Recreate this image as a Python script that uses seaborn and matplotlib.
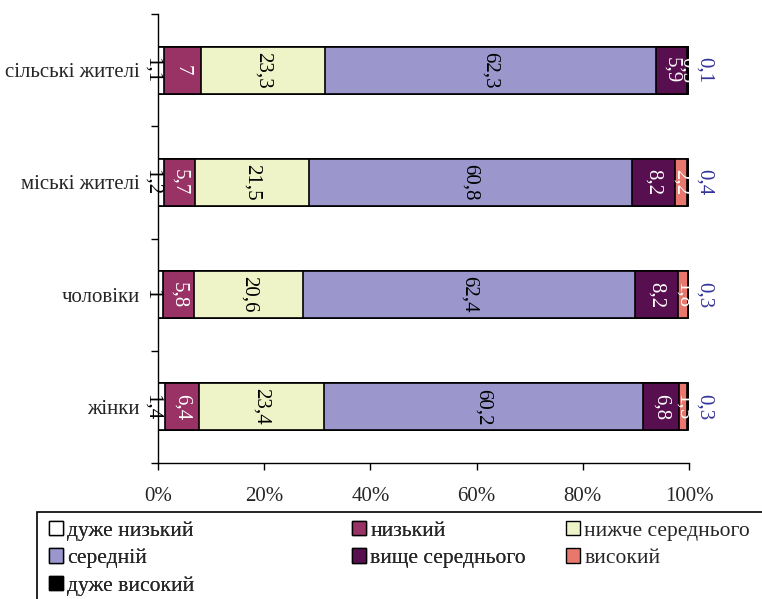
import matplotlib
matplotlib.use("Agg")
import matplotlib.pyplot as plt
import seaborn as sns
import numpy as np
import pandas as pd
from matplotlib.patches import Patch, Rectangle

sns.set_style("white")
plt.rcParams['font.family'] = ['Liberation Serif', 'DejaVu Serif']

categories = ["сільські жителі", "міські жителі", "чоловіки", "жінки"]
series_names = ["дуже низький", "низький", "нижче середнього", "середній",
                "вище середнього", "високий", "дуже високий"]
very_low = [1.1, 1.2, 1.0, 1.4]
low = [7.0, 5.7, 5.8, 6.4]
below_avg = [23.3, 21.5, 20.6, 23.4]
average = [62.3, 60.8, 62.4, 60.2]
above_avg = [5.9, 8.2, 8.2, 6.8]
high = [0.3, 2.2, 1.8, 1.5]
very_high = [0.1, 0.4, 0.3, 0.3]
xtick_labels = ["0%", "20%", "40%", "60%", "80%", "100%"]

series = [very_low, low, below_avg, average, above_avg, high, very_high]
colors = ["#FFFFFF", "#993366", "#EEF3C8", "#9B96CC", "#570F4F", "#E8786E", "#000000"]
text_colors = ["black", "white", "black", "black", "white", "white", "#333399"]

fig = plt.figure(figsize=(7.62, 5.99), dpi=100)
ax = fig.add_axes([158/762, 1-463/599, (689-158)/762, (463-14)/599])

vals = np.array(series)
cum = np.cumsum(vals, axis=0)
for i in range(len(series)-1, -1, -1):
    df = pd.DataFrame({"cat": categories, "v": cum[i]})
    sns.barplot(data=df, x="v", y="cat", orient="h", color=colors[i],
                saturation=1, width=0.42, edgecolor="black", linewidth=1.2, ax=ax)

for i in range(len(series)):
    for j, cat in enumerate(categories):
        v = vals[i][j]
        start = cum[i][j] - v
        xc = start + v / 2
        if i == 0:
            xc = start - 1.2
        elif i == len(series) - 1:
            xc = cum[i][j] + 2.8
        lab = f"{v:g}".replace(".", ",")
        ax.text(xc, j, lab, rotation=270, ha="center", va="center",
                fontsize=15, color=text_colors[i], zorder=5)

ax.set_xlim(0, 100)
ax.set_ylim(3.5, -0.5)
ax.set_xticks([0, 20, 40, 60, 80, 100])
ax.set_xticklabels(xtick_labels, fontsize=15)
ax.set_yticks(range(len(categories)))
ax.set_yticklabels(categories, fontsize=15)
ax.set_yticks([-0.5, 0.5, 1.5, 2.5, 3.5], minor=True)
ax.tick_params(axis="y", which="major", length=0, pad=13)
ax.tick_params(axis="y", which="minor", length=5, width=1, color="black", direction="out", left=True)
ax.tick_params(axis="x", length=5, width=1, color="black", direction="out", bottom=True, pad=12)
ax.set_xlabel("")
ax.set_ylabel("")
for s in ["top", "right"]:
    ax.spines[s].set_visible(False)
for s in ["left", "bottom"]:
    ax.spines[s].set_color("black")
    ax.spines[s].set_linewidth(1)

# legend: 3 columns, filled row by row
ncol = 3
col_x = [49, 352, 566]
legend_top = 521
handles = [Patch(facecolor=c, edgecolor="black", linewidth=1) for c in colors]
for c in range(ncol):
    idx = list(range(c, len(handles), ncol))
    leg = fig.legend([handles[k] for k in idx], [series_names[k] for k in idx],
                     loc="upper left", bbox_to_anchor=(col_x[c]/762, 1-legend_top/599),
                     fontsize=15.5, frameon=False,
                     handlelength=0.65, handleheight=0.65, handletextpad=0.2,
                     labelspacing=0.36, borderpad=0, borderaxespad=0)
    if c < ncol - 1:
        fig.add_artist(leg)
frame = Rectangle((37/762, -0.1), 1.0, 1-512/599 + 0.1, transform=fig.transFigure,
                  fill=False, edgecolor="black", linewidth=1.2)
fig.add_artist(frame)

fig.savefig("out.png", dpi=100)
